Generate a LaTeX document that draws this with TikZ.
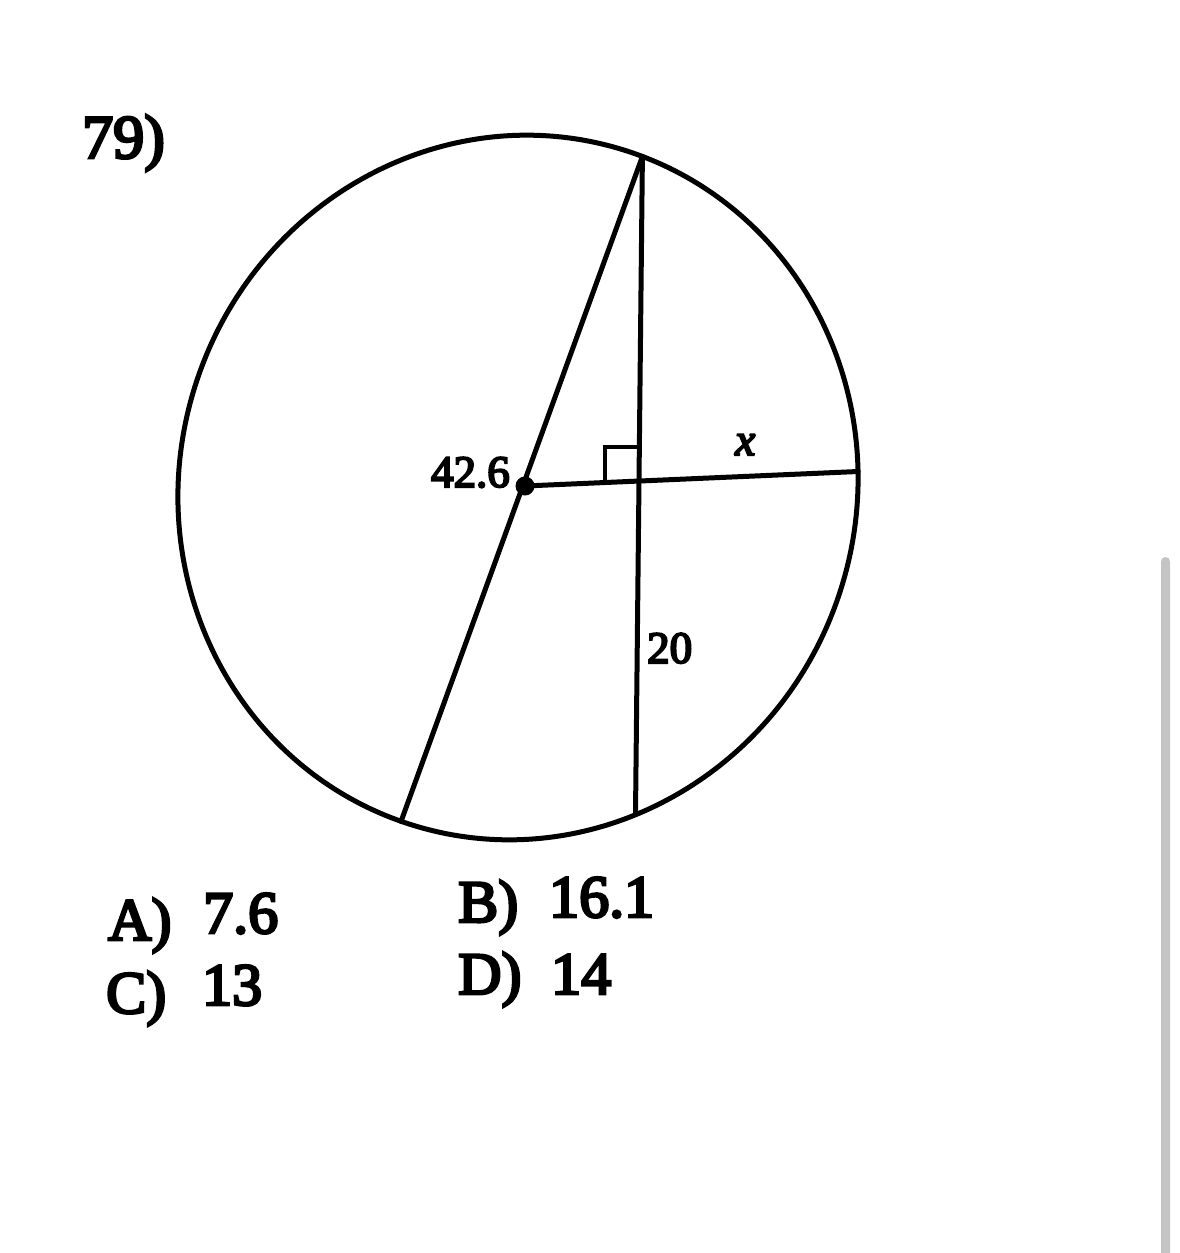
\documentclass[tikz,border=0pt]{standalone}
\usepackage{fontspec}
\usetikzlibrary{calc}
\setmainfont{Liberation Serif}[FakeBold=4.5]
\definecolor{sbar}{RGB}{196,196,196}
\begin{document}
\begin{tikzpicture}[x=1pt,y=-1pt,
  geo/.style={line width=5pt, line cap=round, line join=round},
  rtmark/.style={line width=4pt, line join=miter},
  lbl/.style={inner sep=0pt, anchor=base west, font=\fontsize{45}{50}\selectfont},
  ans/.style={inner sep=0pt, anchor=base west, font=\fontsize{60}{66}\selectfont}]
\useasboundingbox (0,0) rectangle (1179,1253);
% scrollbar
\fill[sbar, rounded corners=4.5pt] (1161,1262) rectangle (1170,557);
% circle (slightly oval, as scanned)
\draw[geo, shift={(518,487.5)}, rotate=-18.2] (0,0) ellipse [x radius=338.5, y radius=353.7];
% points
\coordinate (O) at (525,486);
\coordinate (T) at (642.4,156.5);
\coordinate (L) at (401,821.5);
\coordinate (B) at (635.5,814);
\coordinate (R) at (858,471.5);
\coordinate (F) at (639,481);
% chords and radius
\draw[geo] (T) -- (L);
\draw[geo] (T) -- (B);
\draw[geo] (O) -- (R);
\draw[rtmark] ($(F)+(-34,1)$) -- ++(0,-35) -- ++(34,0);
\fill (O) circle (9.5);
% labels
\node[lbl, anchor=base east] (l426) at (510,487) {42.6};
\node[lbl] (l20) at (647,663) {20};
\node[lbl] (lx) at (735,455) {\itshape x};
\node[ans, font=\fontsize{62}{66}\selectfont] (num) at (82,158) {79)};
\node[ans] (aA) at (108,940) {A)};
\node[ans] (vA) at (203,933) {7.6};
\node[ans] (aB) at (458,922) {B)};
\node[ans] (vB) at (549,917) {16.1};
\node[ans] (aC) at (106,1013) {C)};
\node[ans] (vC) at (202,1005) {13};
\node[ans] (aD) at (458,994) {D)};
\node[ans] (vD) at (551,994) {14};
\end{tikzpicture}
\end{document}
